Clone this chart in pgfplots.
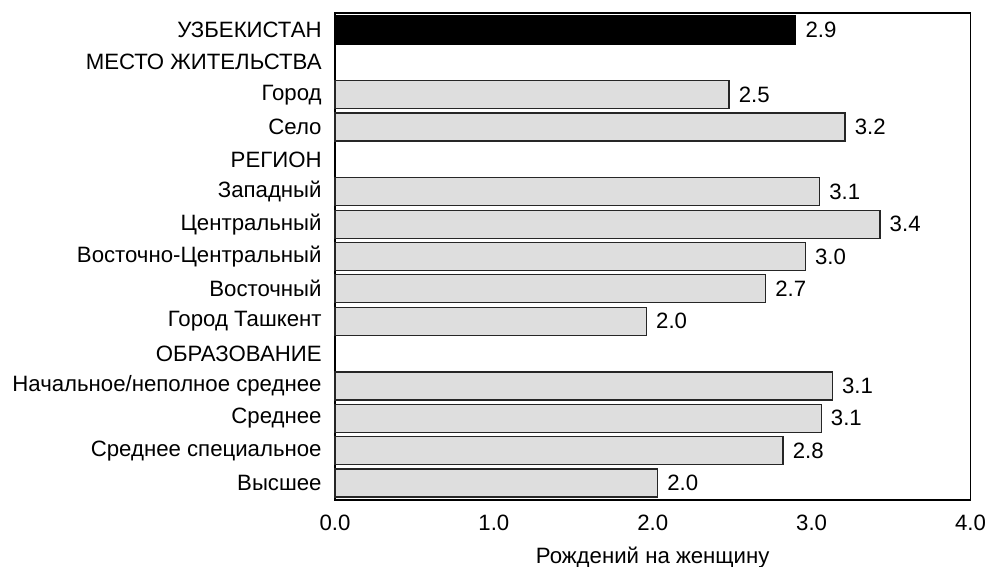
\documentclass[border=0pt]{standalone}
\usepackage{fontspec}
\setmainfont{Liberation Sans}
\usepackage{pgfplots}
\pgfplotsset{compat=1.18}
\definecolor{barfill}{HTML}{DEDEDE}
\begin{document}
\fontsize{11.1}{12}\selectfont
\begin{tikzpicture}
\begin{axis}[
  at={(0,0)}, anchor=south west,
  scale only axis, width=317.75pt, height=243.5pt,
  xbar, bar width=14pt, bar shift=0pt,
  xmin=0, xmax=4, ymin=-0.525, ymax=14.525, y dir=reverse,
  xtick={0,1,2,3,4}, xticklabels={0.0,1.0,2.0,3.0,4.0},
  ytick={0,...,14},
  yticklabels={УЗБЕКИСТАН,МЕСТО ЖИТЕЛЬСТВА,Город,Село,РЕГИОН,Западный,Центральный,Восточно-Центральный,Восточный,Город Ташкент,ОБРАЗОВАНИЕ,Начальное/неполное среднее,Среднее,Среднее специальное,Высшее},
  major tick length=0pt,
  axis line style={line width=0.75pt},
  xticklabel style={inner sep=0pt, anchor=center, yshift=-11.5pt},
  yticklabel style={inner sep=0pt, anchor=east, xshift=-6.5pt},
  xlabel={Рождений на женщину},
  xlabel style={at={(axis description cs:0.5,0)}, anchor=center, yshift=-29pt, inner sep=0pt},
  point meta=explicit symbolic,
  nodes near coords,
  nodes near coords style={anchor=west, inner sep=0pt, xshift=4.6pt, text=black},
  font=\fontsize{11.1}{12}\selectfont,
  clip=false,
]
\addplot[fill=black, draw=black, line width=0.6pt] coordinates {(2.9,0) [2.9]};
\addplot[fill=barfill, draw=black!85, line width=0.6pt] coordinates {
  (2.48,2) [2.5]
  (3.21,3) [3.2]
  (3.05,5) [3.1]
  (3.43,6) [3.4]
  (2.96,7) [3.0]
  (2.71,8) [2.7]
  (1.96,9) [2.0]
  (3.13,11) [3.1]
  (3.06,12) [3.1]
  (2.82,13) [2.8]
  (2.03,14) [2.0]
};
\end{axis}
\pgfresetboundingbox
\path (-167.5pt,-33.5pt) rectangle (325pt,250pt);
\end{tikzpicture}
\end{document}
